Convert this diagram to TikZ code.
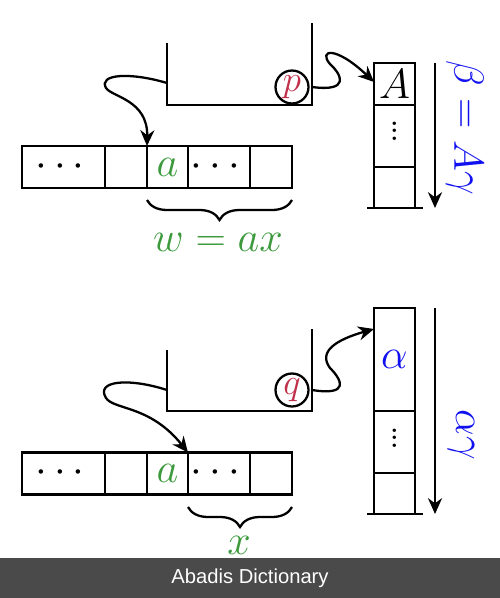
\documentclass[tikz,border=0pt]{standalone}
\usepackage{fix-cm}
\usepackage{amsmath}
\usepackage{fontspec}
\newfontfamily\bannerfont{Liberation Sans}
\usetikzlibrary{positioning,arrows.meta,decorations.pathreplacing}
\definecolor{symgreen}{HTML}{3C9A3C}
\definecolor{symred}{HTML}{C0304A}
\definecolor{symblue}{HTML}{1010F0}
\definecolor{banner}{HTML}{4A4A4A}

\begin{document}
\begin{tikzpicture}[x=0.02cm,y=-0.02cm,line width=1.3pt,
  font=\fontsize{24}{28}\selectfont,
  cell/.style={draw,outer sep=0pt,inner sep=0pt,minimum height=0.84cm},
  token/.style={circle,draw,inner sep=0pt,minimum size=0.66cm,text=symred,
    font=\fontsize{21}{25}\selectfont},
  link/.style={-{Stealth[length=9pt,width=8pt]}},
  under/.style={decorate,decoration={brace,mirror,amplitude=0.4cm}}]
\useasboundingbox (0,0) rectangle (500,598);

% upper configuration
\draw (167,43) -- (167,105) -- (312,105) -- (312,23);
\node[token] (p) at (292,87) {$p$};
\coordinate (u1left) at (167,83);
\coordinate (u1right) at (312,87);

\node[cell,minimum width=1.66cm] (r1dots) at (63.5,167) {$\cdots$};
\node[cell,minimum width=0.84cm,right=0pt of r1dots] (r1gap) {};
\node[cell,minimum width=0.82cm,right=0pt of r1gap,text=symgreen] (r1a) {$a$};
\node[cell,minimum width=1.24cm,right=0pt of r1a] (r1more) {$\cdots$};
\node[cell,minimum width=0.84cm,right=0pt of r1more] (r1end) {};
\draw[under] (147,200) -- (292,200);
\node[text=symgreen] (w1) at (218,242) {$w = ax$};

\node[cell,minimum width=0.82cm,minimum height=0.84cm] (s1top) at (394.5,84) {$A$};
\node[cell,minimum width=0.82cm,minimum height=1.24cm,below=0pt of s1top] (s1mid) {};
\node[inner sep=0pt] (s1dots) at ([yshift=0.2cm]s1mid.center) {$\vdots$};
\node[cell,minimum width=0.82cm,minimum height=0.82cm,below=0pt of s1mid] (s1bot) {};
\draw ([xshift=-0.14cm]s1bot.south west) -- ([xshift=0.16cm]s1bot.south east);
\coordinate (d1a) at (435,63);
\coordinate (d1b) at (435,208);
\draw[link] (d1a) -- (d1b);
\node[text=symblue,rotate=-90] (beta) at (465,128) {$\beta = A\gamma$};

\draw[link] (u1left) .. controls (130,72) and (98,74) .. (106,88)
  .. controls (112,97) and (148,100) .. (r1a.north west);
\draw[link] (u1right) .. controls (350,92) and (342,75) .. (330,64)
  .. controls (318,50) and (335,45) .. ([yshift=0.04cm]s1top.west);

% lower configuration
\draw (167,350) -- (167,411) -- (312,411) -- (312,329);
\node[token] (q) at (292,390) {$q$};
\coordinate (u2left) at (167,390);
\coordinate (u2right) at (312,390);

\node[cell,minimum width=1.66cm] (r2dots) at (63.5,473.5) {$\cdots$};
\node[cell,minimum width=0.84cm,right=0pt of r2dots] (r2gap) {};
\node[cell,minimum width=0.82cm,right=0pt of r2gap,text=symgreen] (r2a) {$a$};
\node[cell,minimum width=1.24cm,right=0pt of r2a] (r2more) {$\cdots$};
\node[cell,minimum width=0.84cm,right=0pt of r2more] (r2end) {};
\draw[under] (188,507) -- (292,507);
\node[text=symgreen] (x2) at (239,545) {$x$};

\node[cell,minimum width=0.82cm,minimum height=2.06cm,text=symblue] (s2top) at (394.5,359.5) {$\alpha$};
\node[cell,minimum width=0.82cm,minimum height=1.24cm,below=0pt of s2top] (s2mid) {};
\node[inner sep=0pt] (s2dots) at ([yshift=0.18cm]s2mid.center) {$\vdots$};
\node[cell,minimum width=0.82cm,minimum height=0.82cm,below=0pt of s2mid] (s2bot) {};
\draw ([xshift=-0.14cm]s2bot.south west) -- ([xshift=0.16cm]s2bot.south east);
\coordinate (d2a) at (435,308);
\coordinate (d2b) at (435,514);
\draw[link] (d2a) -- (d2b);
\node[text=symblue,rotate=-90] (agam) at (461,435) {$\alpha\gamma$};

\draw[link] (u2left) .. controls (130,378) and (95,380) .. (106,398)
  .. controls (114,410) and (150,405) .. (r2a.north east);
\draw[link] (u2right) .. controls (350,396) and (342,380) .. (330,368)
  .. controls (318,352) and (335,340) .. ([yshift=-0.42cm]s2top.north west);

% banner
\fill[banner] (0,558) rectangle (500,598);
\node[text=white,font=\bannerfont\fontsize{11.5}{14}\selectfont] (brand) at (250,578) {Abadis Dictionary};
\end{tikzpicture}
\end{document}
